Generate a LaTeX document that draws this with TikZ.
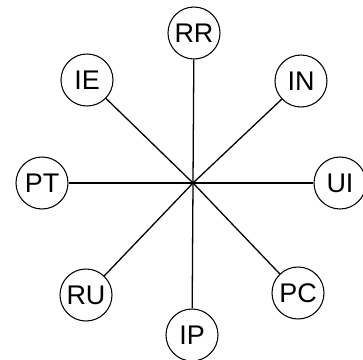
\documentclass[tikz,border=0pt]{standalone}
\usepackage{fontspec}
\setmainfont{Liberation Sans}
\usetikzlibrary{positioning}

\tikzset{
  term/.style={draw,circle,line width=0.9pt,minimum size=1.56cm,inner sep=0pt,
    font=\fontsize{23}{27}\selectfont},
  spoke/.style={line width=1.1pt}
}

\begin{document}
\begin{tikzpicture}[x=0.03cm,y=-0.03cm]
  \useasboundingbox (0,0) rectangle (363,359);
  \coordinate (hub) at (193,183);
  \foreach \n/\x/\y in {RR/194/33, IN/301/81, UI/340/183, PC/298/293,
                        IP/192/335, RU/86/295, PT/42/183, IE/87/80} {
    \node[term] (\n) at (\x,\y) {\n};
    \draw[spoke] (hub) -- (\n);
  }
\end{tikzpicture}
\end{document}
